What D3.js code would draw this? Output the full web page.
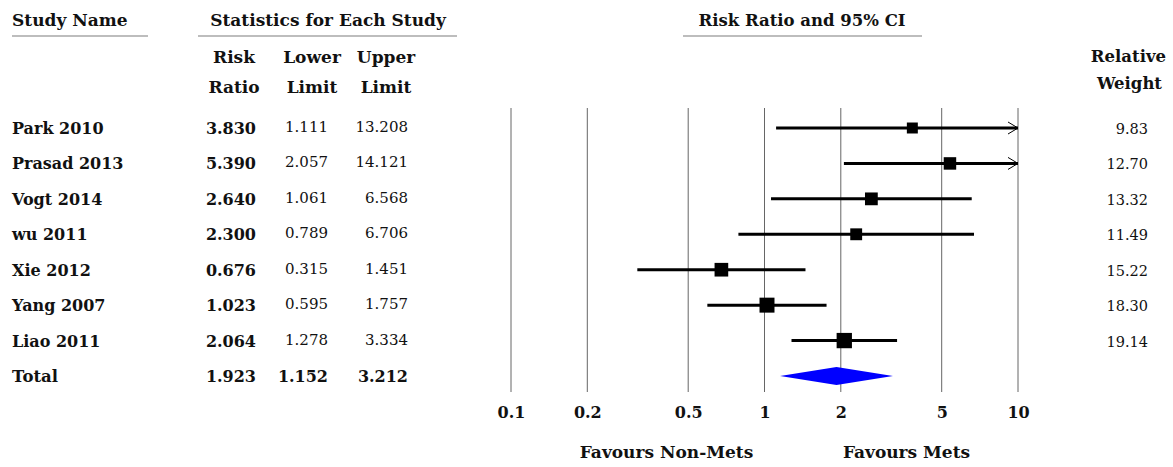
<!DOCTYPE html>
<html>
<head>
<meta charset="utf-8">
<script src="https://cdn.jsdelivr.net/npm/d3@7"></script>
<style>
  body { margin: 0; background: #fff; }
  svg { display: block; }
  text { font-family: "DejaVu Serif", "Liberation Serif", serif; fill: #111; }
</style>
</head>
<body>
<div id="forest"></div>
<script>
// data
var studies = ["Park 2010", "Prasad 2013", "Vogt 2014", "wu 2011", "Xie 2012", "Yang 2007", "Liao 2011"];
var riskRatio = [3.830, 5.390, 2.640, 2.300, 0.676, 1.023, 2.064];
var lowerLimit = [1.111, 2.057, 1.061, 0.789, 0.315, 0.595, 1.278];
var upperLimit = [13.208, 14.121, 6.568, 6.706, 1.451, 1.757, 3.334];
var relWeight = [9.83, 12.70, 13.32, 11.49, 15.22, 18.30, 19.14];
var totalLabel = "Total";
var totalRR = 1.923, totalLower = 1.152, totalUpper = 3.212;
var tickValues = [0.1, 0.2, 0.5, 1, 2, 5, 10];
var tickLabels = ["0.1", "0.2", "0.5", "1", "2", "5", "10"];

var w = 1173, h = 467;

var svg = d3.select('#forest').append('svg')
    .attr('width', w)
    .attr('height', h);

var rows = studies.concat([totalLabel]);

var x = d3.scaleLog()
    .domain([0.1, 10])
    .range([511, 1018]);

var y = d3.scalePoint()
    .domain(rows)
    .range([128, 376]);

var fmt = d3.format('.3f');
var fmtW = d3.format('.2f');

// column positions
var col = {name: 12, rr: 256, lo: 328, up: 408, wt: 1148};

/* HEADERS */
function header(txt, xPos, yPos, anchor, size) {
    svg.append('text')
        .attr('x', xPos)
        .attr('y', yPos)
        .attr('text-anchor', anchor || 'start')
        .style('font-size', (size || 17) + 'px')
        .style('font-weight', 'bold')
        .text(txt);
}
function underline(x1, x2) {
    svg.append('line')
        .attr('x1', x1).attr('x2', x2)
        .attr('y1', 36).attr('y2', 36)
        .attr('stroke', '#bdbdbd')
        .attr('stroke-width', 2);
}

header('Study Name', 12, 26);
underline(12, 148);
header('Statistics for Each Study', 328, 26, 'middle');
underline(198, 457);
header('Risk Ratio and 95% CI', 802, 26, 'middle', 16.5);
underline(683, 922);

header('Risk', 234, 63, 'middle');
header('Ratio', 234, 93, 'middle');
header('Lower', 312, 63, 'middle');
header('Limit', 312, 93, 'middle');
header('Upper', 386, 63, 'middle');
header('Limit', 386, 93, 'middle');
header('Relative', 1166, 62, 'end', 16.5);
header('Weight', 1162, 89, 'end', 16.5);

/* GRID */
svg.append('g')
    .selectAll('line')
    .data(tickValues)
    .enter().append('line')
    .attr('x1', function(d) { return x(d); })
    .attr('x2', function(d) { return x(d); })
    .attr('y1', 108)
    .attr('y2', 392)
    .attr('stroke', '#666')
    .attr('stroke-width', 1);

var xAxis = d3.axisBottom(x)
    .tickValues(tickValues)
    .tickFormat(function(d, i) { return tickLabels[i]; })
    .tickSize(0)
    .tickPadding(0);

var axisG = svg.append('g')
    .attr('transform', 'translate(0,407)')
    .call(xAxis);
axisG.select('.domain').remove();
axisG.selectAll('text')
    .attr('dy', '0.71em')
    .style('font-size', '16px')
    .style('font-weight', 'bold')
    .style('font-family', '"DejaVu Serif", serif')
    .attr('fill', '#111');

svg.append('text')
    .attr('x', x(1) - 98).attr('y', 458)
    .attr('text-anchor', 'middle')
    .style('font-size', '17px').style('font-weight', 'bold')
    .text('Favours Non-Mets');
svg.append('text')
    .attr('x', x(1) + 142).attr('y', 458)
    .attr('text-anchor', 'middle')
    .style('font-size', '17px').style('font-weight', 'bold')
    .text('Favours Mets');

/* TABLE */
var table = svg.append('g');
studies.forEach(function(s, i) {
    var yy = y(s) + 6;
    table.append('text').attr('x', col.name).attr('y', yy)
        .style('font-size', '16px').style('font-weight', 'bold').text(s);
    table.append('text').attr('x', col.rr).attr('y', yy).attr('text-anchor', 'end')
        .style('font-size', '16px').style('font-weight', 'bold').text(fmt(riskRatio[i]));
    table.append('text').attr('x', col.lo).attr('y', yy - 2).attr('text-anchor', 'end')
        .style('font-size', '15px').text(fmt(lowerLimit[i]));
    table.append('text').attr('x', col.up).attr('y', yy - 2).attr('text-anchor', 'end')
        .style('font-size', '15px').text(fmt(upperLimit[i]));
    table.append('text').attr('x', col.wt).attr('y', yy).attr('text-anchor', 'end')
        .style('font-size', '14.5px').text(fmtW(relWeight[i]));
});
var ty = y(totalLabel) + 6;
table.append('text').attr('x', col.name).attr('y', ty)
    .style('font-size', '16.5px').style('font-weight', 'bold').text(totalLabel);
[[col.rr, totalRR], [col.lo, totalLower], [col.up, totalUpper]].forEach(function(c) {
    table.append('text').attr('x', c[0]).attr('y', ty).attr('text-anchor', 'end')
        .style('font-size', '16px').style('font-weight', 'bold').text(fmt(c[1]));
});

/* CI LINES, SQUARES */
var maxX = x.domain()[1];
var marks = svg.append('g');
studies.forEach(function(s, i) {
    var yy = y(s);
    var hi = Math.min(upperLimit[i], maxX);
    marks.append('line')
        .attr('x1', x(lowerLimit[i])).attr('x2', x(hi))
        .attr('y1', yy).attr('y2', yy)
        .attr('stroke', '#000').attr('stroke-width', 3);
    if (upperLimit[i] > maxX) {
        // open arrow head for CI running off the scale
        marks.append('path')
            .attr('d', 'M' + (x(maxX) - 10) + ',' + (yy - 6) + 'L' + x(maxX) + ',' + yy + 'L' + (x(maxX) - 10) + ',' + (yy + 6))
            .attr('fill', 'none')
            .attr('stroke', '#000')
            .attr('stroke-width', 1);
    }
    var sz = 3.5 * Math.sqrt(relWeight[i]);
    marks.append('rect')
        .attr('x', x(riskRatio[i]) - sz / 2)
        .attr('y', yy - sz / 2)
        .attr('width', sz)
        .attr('height', sz)
        .attr('fill', '#000');
});

// summary diamond
var dy = y(totalLabel);
svg.append('path')
    .attr('d', 'M' + x(totalLower) + ',' + dy +
        'L' + x(totalRR) + ',' + (dy - 9) +
        'L' + x(totalUpper) + ',' + dy +
        'L' + x(totalRR) + ',' + (dy + 9) + 'Z')
    .attr('fill', '#0000ff');
</script>
</body>
</html>
